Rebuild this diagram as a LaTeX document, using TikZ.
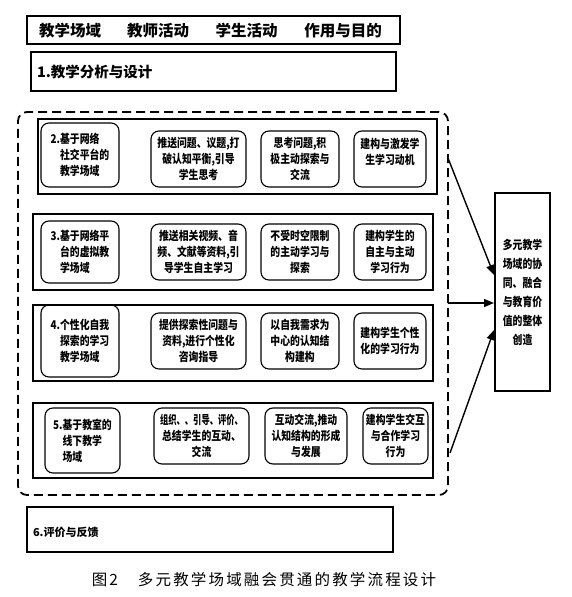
\documentclass[tikz,border=0pt]{standalone}
\usepackage{fontspec}
\usepackage{graphicx}
\usetikzlibrary{arrows.meta}
\setmainfont{Noto Sans CJK SC}
\newfontfamily\bxfont{Noto Sans CJK SC}[FakeStretch=0.82]
\newfontfamily\capfont{Noto Sans CJK SC}[LetterSpace=14]
\newcommand\boxtext{\bxfont\bfseries\fontsize{12}{16}\selectfont}
\newcommand\sidetext{\bxfont\bfseries\fontsize{12}{19}\selectfont}
\tikzset{
  every node/.style={inner sep=0pt, outer sep=0pt},
  framebox/.style={draw, line width=1.2pt, rectangle},
  rbox/.style={draw, line width=1.1pt, rounded corners=8pt, align=center, font=\boxtext},
  dbox/.style={draw, line width=1.1pt, rounded corners=8pt, align=left, font=\boxtext},
  dashbox/.style={draw, line width=1.8pt, dash pattern=on 9pt off 5pt, rounded corners=9pt, rectangle},
  headtext/.style={font=\bfseries\fontsize{15.5}{18}\selectfont},
  arr/.style={line width=1.4pt, -{Triangle[length=10pt,width=8pt]}},
}
\begin{document}
\begin{tikzpicture}[x=1pt,y=-1pt]
\useasboundingbox (0,0) rectangle (571,597);
% header
\node[framebox, line width=1.5pt, minimum width=373, minimum height=28] (hdr) at (213.5,30) {};
\node[headtext] (h1) at (70,31) {教学场域};
\node[headtext] (h2) at (158,31) {教师活动};
\node[headtext] (h3) at (246.5,31) {学生活动};
\node[headtext] (h4) at (343,31) {作用与目的};
% step 1
\node[framebox, minimum width=365, minimum height=39] (s1box) at (213.5,71.5) {};
\node[anchor=west, font=\bfseries\fontsize{14.5}{17}\selectfont] (s1txt) at (37,72) {1.教学分析与设计};
% dashed region
\node[dashbox, minimum width=430, minimum height=383] (dsh) at (233,303.5) {};
% row 1
\node[framebox, minimum width=399, minimum height=75] (r1) at (237.5,156.5) {};
\node[dbox, minimum width=78, minimum height=64] (d1) at (80,155) {2.基于网络\\\hphantom{2.}社交平台的\\\hphantom{2.}教学场域};
\node[rbox, minimum width=95, minimum height=56] (t1) at (198.5,159) {推送问题、议题,打\\破认知平衡,引导\\学生思考};
\node[rbox, minimum width=78, minimum height=56] (u1) at (300,159) {思考问题,积\\极主动探索与\\交流};
\node[rbox, minimum width=72, minimum height=56] (p1) at (390,159) {建构与激发学\\生学习动机\\\mbox{}};
% row 2
\node[framebox, minimum width=400, minimum height=76] (r2) at (233,252) {};
\node[dbox, minimum width=78, minimum height=62] (d2) at (80,252) {3.基于网络平\\\hphantom{3.}台的虚拟教\\\hphantom{3.}学场域};
\node[rbox, minimum width=95, minimum height=56] (t2) at (198.5,252) {推送相关视频、音\\频、文献等资料,引\\导学生自主学习};
\node[rbox, minimum width=78, minimum height=56] (u2) at (300,252) {不受时空限制\\的主动学习与\\探索};
\node[rbox, minimum width=72, minimum height=56] (p2) at (390,252) {建构学生的\\自主与主动\\学习行为};
% row 3
\node[framebox, minimum width=400, minimum height=76] (r3) at (233,343) {};
\node[dbox, minimum width=78, minimum height=72] (d3) at (80,341) {4.个性化自我\\\hphantom{4.}探索的学习\\\hphantom{4.}教学场域};
\node[rbox, minimum width=95, minimum height=56] (t3) at (198.5,341) {提供探索性问题与\\资料,进行个性化\\咨询指导};
\node[rbox, minimum width=78, minimum height=56] (u3) at (300,341) {以自我需求为\\中心的认知结\\构建构};
\node[rbox, minimum width=72, minimum height=56] (p3) at (390,341) {建构学生个性\\化的学习行为};
% row 4
\node[framebox, minimum width=400, minimum height=75] (r4) at (233,440.5) {};
\node[dbox, minimum width=75, minimum height=65] (d4) at (82.5,440.5) {5.基于教室的\\\hphantom{5.}线下教学\\\hphantom{5.}场域};
\node[rbox, minimum width=95, minimum height=56] (t4) at (201.5,436) {\scalebox{0.84}[1]{组织、、引导、评价、}\\总结学生的互动、\\交流};
\node[rbox, minimum width=82, minimum height=56] (u4) at (306,436) {互动交流,推动\\认知结构的形成\\与发展};
\node[rbox, minimum width=65, minimum height=56] (p4) at (395.5,436) {建构学生交互\\与合作学习\\行为};
% right box
\node[framebox, minimum width=55, minimum height=198, align=center, font=\sidetext] (rt) at (522.5,292) {多元教学\\场域的协\\同、融合\\与教育价\\值的整体\\创造};
% step 6
\node[framebox, minimum width=366, minimum height=45] (s6box) at (210,529.5) {};
\node[anchor=west, font=\bfseries\fontsize{11}{13}\selectfont] (s6txt) at (33,532) {6.评价与反馈};
% caption
\node[font=\capfont\fontsize{15.5}{18}\selectfont] (cap) at (264,580) {图2　多元教学场域融会贯通的教学流程设计};
% arrows
\coordinate (a1s) at (448,158);
\coordinate (a2s) at (448,303);
\coordinate (a3s) at (450,453);
\coordinate (a1e) at (494,275);
\coordinate (a2e) at (494,303);
\coordinate (a3e) at (494,330);
\draw[arr] (a1s) -- (a1e);
\draw[arr] (a2s) -- (a2e);
\draw[arr] (a3s) -- (a3e);
\end{tikzpicture}
\end{document}
